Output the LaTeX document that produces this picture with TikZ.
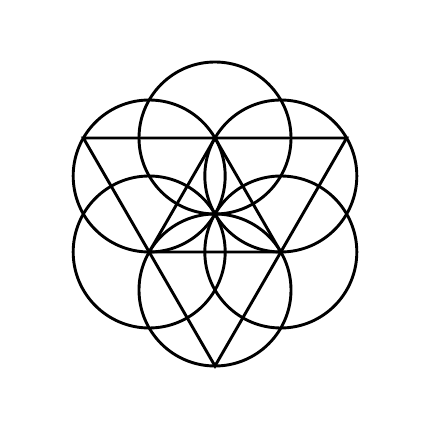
\documentclass[tikz,border=0pt]{standalone}
\usetikzlibrary{calc}
\begin{document}
\begin{tikzpicture}[
        line width=1.65pt,
        petal/.style={draw, black},
        edge/.style={draw, black, line join=miter}
    ]
    \useasboundingbox (0,0) rectangle (8.6,8.6);
    \coordinate (centre) at (4.3,4.32);

    % Six circles
    \foreach \a in {30,90,...,330}
        \draw[petal] ($(centre)+(\a:1.52)$) circle (1.52);

    % Outer triangle
    \coordinate (outer_left) at ($(centre)+(150:3.04)$);
    \coordinate (outer_right) at ($(centre)+(30:3.04)$);
    \coordinate (outer_bottom) at ($(centre)+(270:3.04)$);
    \draw[edge] (outer_left) -- (outer_right) -- (outer_bottom) -- cycle;

    % Inner triangle
    \coordinate (inner_top) at ($(centre)+(90:1.52)$);
    \coordinate (inner_left) at ($(centre)+(210:1.52)$);
    \coordinate (inner_right) at ($(centre)+(330:1.52)$);
    \draw[edge] (inner_top) -- (inner_left) -- (inner_right) -- cycle;
\end{tikzpicture}
\end{document}
